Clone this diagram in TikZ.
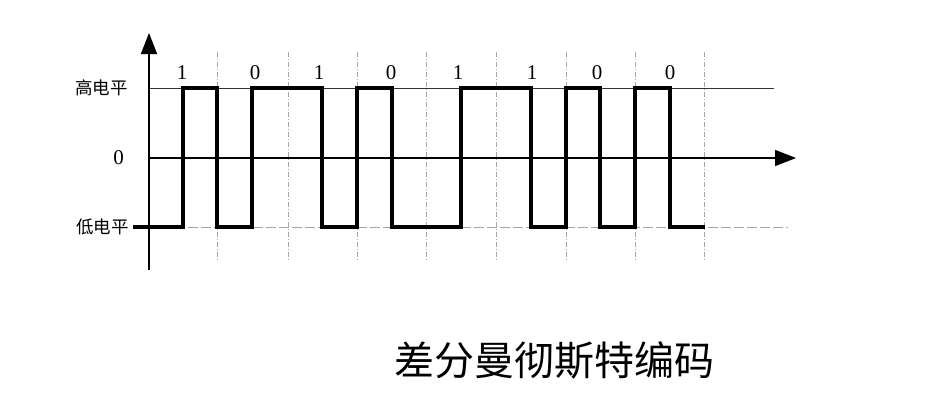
\documentclass[tikz,border=0pt]{standalone}
\usepackage{fontspec}
\setmainfont{Liberation Serif}
\newfontfamily\cjk{Noto Sans CJK SC}
\usetikzlibrary{arrows.meta}
\tikzset{
  gridline/.style={gray!70, line width=1pt, dash pattern=on 5pt off 2pt on 1pt off 2pt},
  hiline/.style={black!80, line width=1pt},
  loline/.style={gray!70, line width=1pt, dash pattern=on 10pt off 3pt},
  axisline/.style={black, line width=1.6pt, -{Triangle[length=21pt,width=16pt]}},
  signal/.style={black, line width=4pt, line join=miter, line cap=butt},
  bitlabel/.style={font=\fontsize{21}{21}\selectfont, inner sep=0pt},
  levellabel/.style={font=\fontsize{17.5}{17.5}\selectfont\cjk, anchor=east, inner sep=0pt},
  titlelabel/.style={font=\fontsize{40}{40}\selectfont\cjk, inner sep=0pt}
}
\begin{document}
\begin{tikzpicture}[x=1pt,y=-1pt]
\useasboundingbox (0,0) rectangle (951,405);
% named reference points
\coordinate (yb) at (149,270);
\coordinate (yt) at (149,33);
\coordinate (xo) at (149,158);
\coordinate (xe) at (796,158);
\coordinate (h0) at (149,88);
\coordinate (h1) at (774,88);
\coordinate (l0) at (149,227);
\coordinate (l1) at (788,227);
% bit boundaries
\foreach \x in {217,288,357,426,496,566,635,704}
  \draw[gridline] (\x,52) -- (\x,262);
% level lines
\draw[hiline] (h0) -- (h1);
\draw[loline] (l0) -- (l1);
% axes
\draw[axisline] (yb) -- (yt);
\draw[axisline] (xo) -- (xe);
\draw[black, line width=2.5pt] (xo) -- ++(24,0);
% signal
\draw[signal] (133,227) -- (183,227) -- (183,88) -- (217,88) -- (217,227)
  -- (252,227) -- (252,88) -- (322,88) -- (322,227) -- (357,227) -- (357,88)
  -- (392,88) -- (392,227) -- (461,227) -- (461,88) -- (531,88) -- (531,227)
  -- (566,227) -- (566,88) -- (600,88) -- (600,227) -- (635,227) -- (635,88)
  -- (670,88) -- (670,227) -- (705,227);
% bit labels
\node[bitlabel] (b1) at (182,73) {1};
\node[bitlabel] (b2) at (255,73) {0};
\node[bitlabel] (b3) at (319,73) {1};
\node[bitlabel] (b4) at (391,73) {0};
\node[bitlabel] (b5) at (458,73) {1};
\node[bitlabel] (b6) at (532,73) {1};
\node[bitlabel] (b7) at (597,73) {0};
\node[bitlabel] (b8) at (670,73) {0};
% level labels
\node[levellabel] (hl) at (128,88) {高电平};
\node[levellabel, font=\fontsize{21}{21}\selectfont] (zl) at (124,158) {0};
\node[levellabel] (ll) at (129,227) {低电平};
% title
\node[titlelabel] (title) at (554,360) {差分曼彻斯特编码};
\end{tikzpicture}
\end{document}
